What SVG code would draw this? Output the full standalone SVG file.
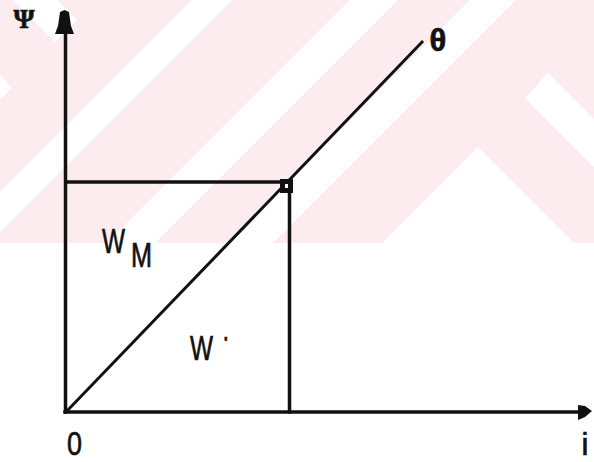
<svg xmlns="http://www.w3.org/2000/svg" width="594" height="462" viewBox="0 0 594 462">
<style>
.ln{stroke:#111;fill:none;stroke-linecap:square}
.lbl{font-family:"Liberation Sans",Arial,sans-serif;fill:#111;stroke:#111;stroke-width:0.7}
.wm{fill:#fdecef}
</style>
<rect width="594" height="462" fill="#fff"/>
<g id="watermark">
<rect class="wm" x="0" y="0" width="594" height="243"/>
<g fill="#fff">
<polygon points="13,0 57,0 77,20 55,42"/>
<polygon points="0,75 12,88 0,100"/>
<polygon points="192,0 232,0 0,232 0,192"/>
<polygon points="350,0 398,0 155,243 107,243"/>
<polygon points="470,0 516,0 273,243 227,243"/>
<polygon points="478,147 574,243 382,243"/>
<polygon points="548,73 594,119 594,167 525,98"/>
</g>
</g>
<g id="axes">
<line class="ln" x1="65.5" y1="33" x2="65.5" y2="412" stroke-width="3.5"/>
<path d="M64.5,10 L60,12 L58,26 L55,34 L74,34 L71,26 L69,12 Z" fill="#111"/>
<line class="ln" x1="65" y1="412" x2="580" y2="412" stroke-width="3.5"/>
<path d="M592,411 L585,406 L578,405 L578,420 L585,417 Z" fill="#111"/>
</g>
<g id="curve">
<line class="ln" x1="66" y1="412" x2="422" y2="42" stroke-width="3"/>
</g>
<g id="guides">
<line class="ln" x1="66" y1="182" x2="281" y2="182" stroke-width="3.5"/>
<line class="ln" x1="289.5" y1="191" x2="289.5" y2="412" stroke-width="3.5"/>
</g>
<g id="point-Q">
<rect x="282.5" y="181.5" width="8" height="9" fill="#fff" stroke="#111" stroke-width="5"/>
</g>
<g id="labels">
<text class="lbl" x="24" y="28" font-size="27" font-weight="bold" text-anchor="middle" style="font-family:'Liberation Serif',serif">Ψ</text>
<text class="lbl" x="438" y="51" font-size="31" font-weight="bold" text-anchor="middle">θ</text>
<text class="lbl" x="67" y="455" font-size="34" textLength="15" lengthAdjust="spacingAndGlyphs">0</text>
<text class="lbl" x="585" y="455" font-size="31" text-anchor="middle">i</text>
<text class="lbl" x="102" y="253" font-size="35"><tspan textLength="23" lengthAdjust="spacingAndGlyphs">W</tspan><tspan x="131" y="267" textLength="21" lengthAdjust="spacingAndGlyphs">M</tspan></text>
<text class="lbl" x="190" y="360" font-size="35"><tspan textLength="23" lengthAdjust="spacingAndGlyphs">W</tspan><tspan x="224" y="347" font-size="15" font-weight="bold">'</tspan></text>
</g>
</svg>
